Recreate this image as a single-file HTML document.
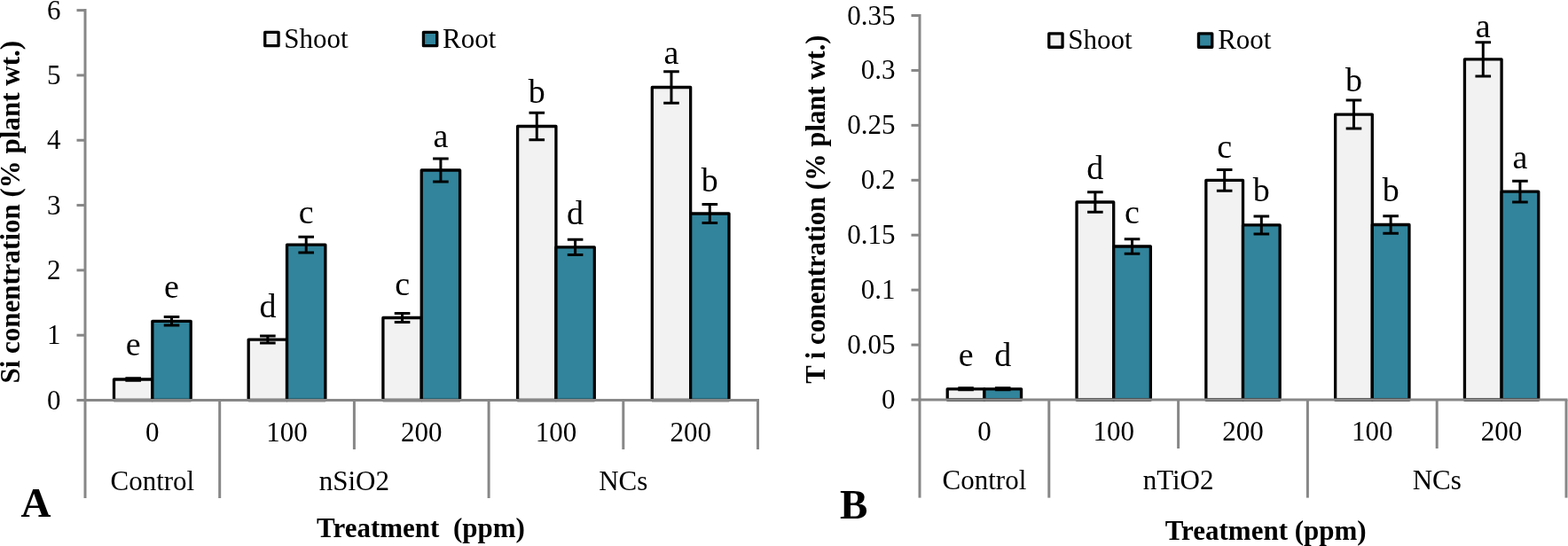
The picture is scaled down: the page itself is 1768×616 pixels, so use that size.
<!DOCTYPE html>
<html><head><meta charset="utf-8"><title>Si and Ti concentration</title>
<style>
html,body{margin:0;padding:0;background:#fff;}
body{width:1768px;height:616px;overflow:hidden;}
svg{display:block;font-family:"Liberation Serif","Times New Roman",serif;}
</style></head><body>
<svg width="1768" height="616" viewBox="0 0 1768 616">
<rect width="1768" height="616" fill="#fff"/>
<rect x="128.51" y="428.00" width="43.34" height="23.50" fill="#F2F2F2" stroke="#000" stroke-width="3.3" stroke-linejoin="round"/>
<rect x="171.85" y="362.30" width="43.34" height="89.20" fill="#31849B" stroke="#000" stroke-width="3.3" stroke-linejoin="round"/>
<rect x="280.21" y="383.10" width="43.34" height="68.40" fill="#F2F2F2" stroke="#000" stroke-width="3.3" stroke-linejoin="round"/>
<rect x="323.55" y="276.20" width="43.34" height="175.30" fill="#31849B" stroke="#000" stroke-width="3.3" stroke-linejoin="round"/>
<rect x="431.91" y="358.50" width="43.34" height="93.00" fill="#F2F2F2" stroke="#000" stroke-width="3.3" stroke-linejoin="round"/>
<rect x="475.25" y="192.00" width="43.34" height="259.50" fill="#31849B" stroke="#000" stroke-width="3.3" stroke-linejoin="round"/>
<rect x="583.61" y="142.50" width="43.34" height="309.00" fill="#F2F2F2" stroke="#000" stroke-width="3.3" stroke-linejoin="round"/>
<rect x="626.95" y="278.90" width="43.34" height="172.60" fill="#31849B" stroke="#000" stroke-width="3.3" stroke-linejoin="round"/>
<rect x="735.31" y="98.50" width="43.34" height="353.00" fill="#F2F2F2" stroke="#000" stroke-width="3.3" stroke-linejoin="round"/>
<rect x="778.65" y="241.00" width="43.34" height="210.50" fill="#31849B" stroke="#000" stroke-width="3.3" stroke-linejoin="round"/>
<path d="M141.38 426.80H158.98M150.18 426.80V429.20M141.38 429.20H158.98" stroke="#000" stroke-width="3.0" fill="none"/>
<path d="M184.72 357.55H202.32M193.52 357.55V367.05M184.72 367.05H202.32" stroke="#000" stroke-width="3.0" fill="none"/>
<path d="M293.08 379.10H310.68M301.88 379.10V387.10M293.08 387.10H310.68" stroke="#000" stroke-width="3.0" fill="none"/>
<path d="M336.42 267.30H354.02M345.22 267.30V285.10M336.42 285.10H354.02" stroke="#000" stroke-width="3.0" fill="none"/>
<path d="M444.78 353.60H462.38M453.58 353.60V363.40M444.78 363.40H462.38" stroke="#000" stroke-width="3.0" fill="none"/>
<path d="M488.12 179.10H505.72M496.92 179.10V204.90M488.12 204.90H505.72" stroke="#000" stroke-width="3.0" fill="none"/>
<path d="M596.48 127.15H614.08M605.28 127.15V157.85M596.48 157.85H614.08" stroke="#000" stroke-width="3.0" fill="none"/>
<path d="M639.82 270.30H657.42M648.62 270.30V287.50M639.82 287.50H657.42" stroke="#000" stroke-width="3.0" fill="none"/>
<path d="M748.18 80.75H765.78M756.98 80.75V116.25M748.18 116.25H765.78" stroke="#000" stroke-width="3.0" fill="none"/>
<path d="M791.52 230.60H809.12M800.32 230.60V251.40M791.52 251.40H809.12" stroke="#000" stroke-width="3.0" fill="none"/>
<line x1="96.00" y1="10.10" x2="96.00" y2="451.50" stroke="#878787" stroke-width="3.0"/>
<line x1="86.50" y1="451.50" x2="96.00" y2="451.50" stroke="#878787" stroke-width="3.0"/>
<text x="68.60" y="461.50" font-size="31" text-anchor="end">0</text>
<line x1="86.50" y1="378.18" x2="96.00" y2="378.18" stroke="#878787" stroke-width="3.0"/>
<text x="68.60" y="388.18" font-size="31" text-anchor="end">1</text>
<line x1="86.50" y1="304.87" x2="96.00" y2="304.87" stroke="#878787" stroke-width="3.0"/>
<text x="68.60" y="314.87" font-size="31" text-anchor="end">2</text>
<line x1="86.50" y1="231.55" x2="96.00" y2="231.55" stroke="#878787" stroke-width="3.0"/>
<text x="68.60" y="241.55" font-size="31" text-anchor="end">3</text>
<line x1="86.50" y1="158.23" x2="96.00" y2="158.23" stroke="#878787" stroke-width="3.0"/>
<text x="68.60" y="168.23" font-size="31" text-anchor="end">4</text>
<line x1="86.50" y1="84.92" x2="96.00" y2="84.92" stroke="#878787" stroke-width="3.0"/>
<text x="68.60" y="94.92" font-size="31" text-anchor="end">5</text>
<line x1="86.50" y1="11.60" x2="96.00" y2="11.60" stroke="#878787" stroke-width="3.0"/>
<text x="68.60" y="21.60" font-size="31" text-anchor="end">6</text>
<line x1="94.50" y1="451.50" x2="856.00" y2="451.50" stroke="#878787" stroke-width="3.0"/>
<line x1="96.00" y1="451.50" x2="96.00" y2="562.00" stroke="#878787" stroke-width="3.0"/>
<line x1="247.70" y1="451.50" x2="247.70" y2="562.00" stroke="#878787" stroke-width="3.0"/>
<line x1="399.40" y1="451.50" x2="399.40" y2="507.00" stroke="#878787" stroke-width="3.0"/>
<line x1="551.10" y1="451.50" x2="551.10" y2="562.00" stroke="#878787" stroke-width="3.0"/>
<line x1="702.80" y1="451.50" x2="702.80" y2="507.00" stroke="#878787" stroke-width="3.0"/>
<line x1="854.50" y1="451.50" x2="854.50" y2="507.00" stroke="#878787" stroke-width="3.0"/>
<text x="171.85" y="498.30" font-size="31" text-anchor="middle">0</text>
<text x="323.55" y="498.30" font-size="31" text-anchor="middle">100</text>
<text x="475.25" y="498.30" font-size="31" text-anchor="middle">200</text>
<text x="626.95" y="498.30" font-size="31" text-anchor="middle">100</text>
<text x="778.65" y="498.30" font-size="31" text-anchor="middle">200</text>
<text x="171.85" y="552.80" font-size="31" text-anchor="middle">Control</text>
<text x="399.40" y="552.80" font-size="31" text-anchor="middle">nSiO2</text>
<text x="702.80" y="552.80" font-size="31" text-anchor="middle">NCs</text>
<text x="150.18" y="401.00" font-size="38" text-anchor="middle">e</text>
<text x="193.52" y="335.70" font-size="38" text-anchor="middle">e</text>
<text x="301.88" y="357.60" font-size="38" text-anchor="middle">d</text>
<text x="345.22" y="251.50" font-size="38" text-anchor="middle">c</text>
<text x="453.58" y="333.00" font-size="38" text-anchor="middle">c</text>
<text x="496.92" y="165.80" font-size="38" text-anchor="middle">a</text>
<text x="605.28" y="115.70" font-size="38" text-anchor="middle">b</text>
<text x="648.62" y="253.00" font-size="38" text-anchor="middle">d</text>
<text x="756.98" y="72.00" font-size="38" text-anchor="middle">a</text>
<text x="800.32" y="215.70" font-size="38" text-anchor="middle">b</text>
<rect x="1068.24" y="438.80" width="41.66" height="12.20" fill="#F2F2F2" stroke="#000" stroke-width="3.3" stroke-linejoin="round"/>
<rect x="1109.90" y="438.80" width="41.66" height="12.20" fill="#31849B" stroke="#000" stroke-width="3.3" stroke-linejoin="round"/>
<rect x="1214.04" y="228.00" width="41.66" height="223.00" fill="#F2F2F2" stroke="#000" stroke-width="3.3" stroke-linejoin="round"/>
<rect x="1255.70" y="278.00" width="41.66" height="173.00" fill="#31849B" stroke="#000" stroke-width="3.3" stroke-linejoin="round"/>
<rect x="1359.84" y="203.40" width="41.66" height="247.60" fill="#F2F2F2" stroke="#000" stroke-width="3.3" stroke-linejoin="round"/>
<rect x="1401.50" y="253.90" width="41.66" height="197.10" fill="#31849B" stroke="#000" stroke-width="3.3" stroke-linejoin="round"/>
<rect x="1505.64" y="129.10" width="41.66" height="321.90" fill="#F2F2F2" stroke="#000" stroke-width="3.3" stroke-linejoin="round"/>
<rect x="1547.30" y="253.50" width="41.66" height="197.50" fill="#31849B" stroke="#000" stroke-width="3.3" stroke-linejoin="round"/>
<rect x="1651.44" y="66.90" width="41.66" height="384.10" fill="#F2F2F2" stroke="#000" stroke-width="3.3" stroke-linejoin="round"/>
<rect x="1693.10" y="216.20" width="41.66" height="234.80" fill="#31849B" stroke="#000" stroke-width="3.3" stroke-linejoin="round"/>
<path d="M1080.27 437.80H1097.87M1089.07 437.80V439.80M1080.27 439.80H1097.87" stroke="#000" stroke-width="3.0" fill="none"/>
<path d="M1121.93 437.80H1139.53M1130.73 437.80V439.80M1121.93 439.80H1139.53" stroke="#000" stroke-width="3.0" fill="none"/>
<path d="M1226.07 216.85H1243.67M1234.87 216.85V239.15M1226.07 239.15H1243.67" stroke="#000" stroke-width="3.0" fill="none"/>
<path d="M1267.73 269.70H1285.33M1276.53 269.70V286.30M1267.73 286.30H1285.33" stroke="#000" stroke-width="3.0" fill="none"/>
<path d="M1371.87 191.45H1389.47M1380.67 191.45V215.35M1371.87 215.35H1389.47" stroke="#000" stroke-width="3.0" fill="none"/>
<path d="M1413.53 243.90H1431.13M1422.33 243.90V263.90M1413.53 263.90H1431.13" stroke="#000" stroke-width="3.0" fill="none"/>
<path d="M1517.67 113.10H1535.27M1526.47 113.10V145.10M1517.67 145.10H1535.27" stroke="#000" stroke-width="3.0" fill="none"/>
<path d="M1559.33 243.65H1576.93M1568.13 243.65V263.35M1559.33 263.35H1576.93" stroke="#000" stroke-width="3.0" fill="none"/>
<path d="M1663.47 47.75H1681.07M1672.27 47.75V86.05M1663.47 86.05H1681.07" stroke="#000" stroke-width="3.0" fill="none"/>
<path d="M1705.13 204.35H1722.73M1713.93 204.35V228.05M1705.13 228.05H1722.73" stroke="#000" stroke-width="3.0" fill="none"/>
<line x1="1037.00" y1="16.00" x2="1037.00" y2="451.00" stroke="#878787" stroke-width="3.0"/>
<line x1="1027.50" y1="451.00" x2="1037.00" y2="451.00" stroke="#878787" stroke-width="3.0"/>
<text x="1009.60" y="461.00" font-size="31" text-anchor="end">0</text>
<line x1="1027.50" y1="389.07" x2="1037.00" y2="389.07" stroke="#878787" stroke-width="3.0"/>
<text x="1009.60" y="399.07" font-size="31" text-anchor="end">0.05</text>
<line x1="1027.50" y1="327.14" x2="1037.00" y2="327.14" stroke="#878787" stroke-width="3.0"/>
<text x="1009.60" y="337.14" font-size="31" text-anchor="end">0.1</text>
<line x1="1027.50" y1="265.21" x2="1037.00" y2="265.21" stroke="#878787" stroke-width="3.0"/>
<text x="1009.60" y="275.21" font-size="31" text-anchor="end">0.15</text>
<line x1="1027.50" y1="203.29" x2="1037.00" y2="203.29" stroke="#878787" stroke-width="3.0"/>
<text x="1009.60" y="213.29" font-size="31" text-anchor="end">0.2</text>
<line x1="1027.50" y1="141.36" x2="1037.00" y2="141.36" stroke="#878787" stroke-width="3.0"/>
<text x="1009.60" y="151.36" font-size="31" text-anchor="end">0.25</text>
<line x1="1027.50" y1="79.43" x2="1037.00" y2="79.43" stroke="#878787" stroke-width="3.0"/>
<text x="1009.60" y="89.43" font-size="31" text-anchor="end">0.3</text>
<line x1="1027.50" y1="17.50" x2="1037.00" y2="17.50" stroke="#878787" stroke-width="3.0"/>
<text x="1009.60" y="27.50" font-size="31" text-anchor="end">0.35</text>
<line x1="1035.50" y1="451.00" x2="1767.50" y2="451.00" stroke="#878787" stroke-width="3.0"/>
<line x1="1037.00" y1="451.00" x2="1037.00" y2="561.60" stroke="#878787" stroke-width="3.0"/>
<line x1="1182.80" y1="451.00" x2="1182.80" y2="561.60" stroke="#878787" stroke-width="3.0"/>
<line x1="1328.60" y1="451.00" x2="1328.60" y2="506.00" stroke="#878787" stroke-width="3.0"/>
<line x1="1474.40" y1="451.00" x2="1474.40" y2="561.60" stroke="#878787" stroke-width="3.0"/>
<line x1="1620.20" y1="451.00" x2="1620.20" y2="506.00" stroke="#878787" stroke-width="3.0"/>
<line x1="1766.00" y1="451.00" x2="1766.00" y2="561.60" stroke="#878787" stroke-width="3.0"/>
<text x="1109.90" y="497.40" font-size="31" text-anchor="middle">0</text>
<text x="1255.70" y="497.40" font-size="31" text-anchor="middle">100</text>
<text x="1401.50" y="497.40" font-size="31" text-anchor="middle">200</text>
<text x="1547.30" y="497.40" font-size="31" text-anchor="middle">100</text>
<text x="1693.10" y="497.40" font-size="31" text-anchor="middle">200</text>
<text x="1109.90" y="551.90" font-size="31" text-anchor="middle">Control</text>
<text x="1328.60" y="551.90" font-size="31" text-anchor="middle">nTiO2</text>
<text x="1620.20" y="551.90" font-size="31" text-anchor="middle">NCs</text>
<text x="1089.07" y="412.80" font-size="38" text-anchor="middle">e</text>
<text x="1130.73" y="412.80" font-size="38" text-anchor="middle">d</text>
<text x="1234.87" y="201.50" font-size="38" text-anchor="middle">d</text>
<text x="1276.53" y="252.00" font-size="38" text-anchor="middle">c</text>
<text x="1380.67" y="177.70" font-size="38" text-anchor="middle">c</text>
<text x="1422.33" y="226.50" font-size="38" text-anchor="middle">b</text>
<text x="1526.47" y="102.80" font-size="38" text-anchor="middle">b</text>
<text x="1568.13" y="226.80" font-size="38" text-anchor="middle">b</text>
<text x="1672.27" y="41.70" font-size="38" text-anchor="middle">a</text>
<text x="1713.93" y="190.30" font-size="38" text-anchor="middle">a</text>
<rect x="298.75" y="36.35" width="15.3" height="15.3" fill="#F2F2F2" stroke="#000" stroke-width="3.3" stroke-linejoin="round"/>
<text x="320.30" y="54.00" font-size="31" text-anchor="start">Shoot</text>
<rect x="477.45" y="36.35" width="15.3" height="15.3" fill="#31849B" stroke="#000" stroke-width="3.3" stroke-linejoin="round"/>
<text x="499.10" y="54.00" font-size="31" text-anchor="start">Root</text>
<rect x="1182.75" y="37.95" width="15.3" height="15.3" fill="#F2F2F2" stroke="#000" stroke-width="3.3" stroke-linejoin="round"/>
<text x="1204.20" y="55.20" font-size="31" text-anchor="start">Shoot</text>
<rect x="1351.45" y="37.95" width="15.3" height="15.3" fill="#31849B" stroke="#000" stroke-width="3.3" stroke-linejoin="round"/>
<text x="1373.20" y="55.20" font-size="31" text-anchor="start">Root</text>
<text x="0" y="0" font-size="31" font-weight="bold" text-anchor="middle" transform="translate(21.90,239.30) rotate(-90)" xml:space="preserve">Si conentration (% plant wt.)</text>
<text x="0" y="0" font-size="30.7" font-weight="bold" text-anchor="middle" transform="translate(930.20,236.10) rotate(-90)" xml:space="preserve">T i conentration (% plant wt.)</text>
<text x="357.10" y="605.6" font-size="31" font-weight="bold" xml:space="preserve" style="white-space:pre">Treatment  (ppm)</text>
<text x="1313.70" y="608.8" font-size="31" font-weight="bold">Treatment (ppm)</text>
<text x="23.5" y="582.8" font-size="47" font-weight="bold">A</text>
<text x="946.9" y="584.6" font-size="47" font-weight="bold">B</text>
</svg>
</body></html>
